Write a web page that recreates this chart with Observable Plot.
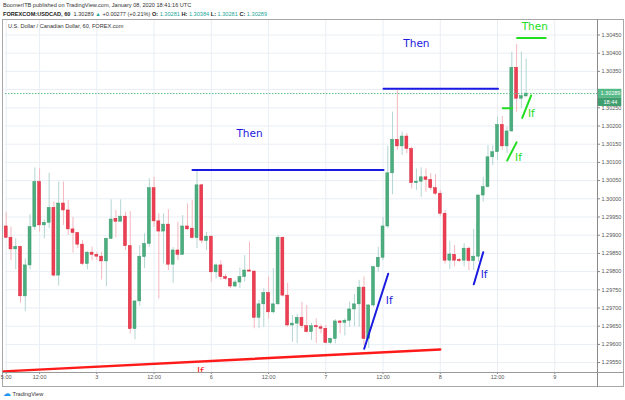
<!DOCTYPE html>
<html>
<head>
<meta charset="utf-8">
<script src="https://cdn.jsdelivr.net/npm/d3@7"></script>
<script src="https://cdn.jsdelivr.net/npm/@observablehq/plot@0.6"></script>
<style>
  html, body { margin: 0; padding: 0; background: #fff; }
  #page { position: relative; width: 625px; height: 400px; overflow: hidden; font-family: "Liberation Sans", Arial, sans-serif; color: #333; }
  #hdr { position: absolute; left: 3px; top: 1px; font-size: 5.6px; line-height: 9px; white-space: nowrap; }
  #hdr b { color: #222; }
  .tl { color: #26a69a; }
  #box { position: absolute; left: 2px; top: 19px; width: 620px; height: 366px; border: 1px solid #a8a8a8; box-sizing: content-box; }
  #vsep { position: absolute; left: 597px; top: 19px; width: 1px; height: 368px; background: #8a8a8a; }
  #hsep { position: absolute; left: 2px; top: 372px; width: 622px; height: 1px; background: #9a9a9a; }
  #chart { position: absolute; left: 0; top: 19px; }
  #title { position: absolute; left: 8px; top: 23px; font-size: 5.6px; white-space: nowrap; color: #333; }
  #logo { position: absolute; left: 3px; top: 389px; font-size: 5.6px; color: #333; white-space: nowrap; }
  #logo span { color: #2196f3; font-size: 8px; }
</style>
</head>
<body>
<div id="page">
  <div id="hdr">
    <div>BoomerITB published on TradingView.com, January 08, 2020 18:41:16 UTC</div>
    <div><b>FOREXCOM:USDCAD, 60</b>&nbsp; 1.30289 <span class="tl">▲</span> +0.00277 (+0.21%) <b>O:</b> <span class="tl">1.30281</span> <b>H:</b> <span class="tl">1.30384</span> <b>L:</b> <span class="tl">1.30281</span> <b>C:</b> <span class="tl">1.30289</span></div>
  </div>
  <div id="box"></div>
  <div id="chart"></div>
  <div id="vsep"></div>
  <div id="hsep"></div>
  <div id="title">U.S. Dollar / Canadian Dollar, 60, FOREX.com</div>
  <div id="logo"><span>☁</span> TradingView</div>
</div>
<script>
// Hourly USDCAD candles, bar 0 = Jan 2 2020 05:00 UTC
const opens = [1.29924,1.29893,1.29861,1.29868,1.29732,1.29817,1.29922,1.30046,1.29927,1.29934,
1.29975,1.29789,1.29987,1.29968,1.29916,1.29906,1.29874,1.29821,1.29852,1.29846,
1.29841,1.29828,1.29890,1.29945,1.29937,1.29951,1.29870,1.29642,1.29718,1.29840,
1.29876,1.30029,1.29938,1.29910,1.29929,1.29819,1.29858,1.29846,1.29924,1.29918,
1.29892,1.30037,1.29884,1.29896,1.29798,1.29817,1.29785,1.29780,1.29759,1.29770,
1.29785,1.29803,1.29800,1.29673,1.29710,1.29741,1.29688,1.29710,1.29893,1.29734,
1.29652,1.29657,1.29673,1.29650,1.29634,1.29650,1.29647,1.29643,1.29604,1.29615,
1.29663,1.29659,1.29665,1.29696,1.29710,1.29756,1.29615,1.29707,1.29812,1.29838,
1.29924,1.30070,1.30162,1.30144,1.30171,1.30137,1.30043,1.30047,1.30059,1.30052,
1.30029,1.30014,1.29959,1.29830,1.29846,1.29832,1.29830,1.29863,1.29829,1.29841,
1.30009,1.30032,1.30114,1.30128,1.30203,1.30144,1.30185,1.30360,1.30275,1.30281];
const highs = [1.29962,1.29922,1.29890,1.29870,1.29835,1.29956,1.30085,1.30082,1.29942,1.30070,
1.29991,1.30046,1.30046,1.29995,1.29949,1.29908,1.29885,1.29855,1.29867,1.29853,
1.29853,1.29892,1.29997,1.29968,1.29997,1.29963,1.29965,1.29720,1.29872,1.29904,
1.30055,1.30059,1.29959,1.29959,1.29970,1.29866,1.29936,1.29954,1.29986,1.29995,
1.30080,1.30040,1.29908,1.29898,1.29821,1.29830,1.29792,1.29781,1.29776,1.29810,
1.29844,1.29881,1.29802,1.29721,1.29753,1.29785,1.29808,1.29899,1.29895,1.29768,
1.29679,1.29682,1.29716,1.29707,1.29658,1.29670,1.29654,1.29652,1.29617,1.29668,
1.29666,1.29670,1.29716,1.29737,1.29776,1.29785,1.29709,1.29814,1.29867,1.29949,
1.30144,1.30238,1.30298,1.30183,1.30179,1.30142,1.30082,1.30085,1.30082,1.30069,
1.30066,1.30023,1.29968,1.29884,1.29872,1.29836,1.29876,1.29867,1.29916,1.30011,
1.30059,1.30146,1.30146,1.30224,1.30226,1.30197,1.30403,1.30424,1.30403,1.30384];
const lows = [1.29891,1.29830,1.29805,1.29713,1.29690,1.29805,1.29913,1.29908,1.29890,1.29918,
1.29785,1.29760,1.29927,1.29899,1.29851,1.29863,1.29817,1.29805,1.29830,1.29830,
1.29777,1.29759,1.29888,1.29893,1.29936,1.29858,1.29629,1.29613,1.29704,1.29808,
1.29867,1.29922,1.29725,1.29821,1.29803,1.29768,1.29830,1.29844,1.29913,1.29890,
1.29863,1.29877,1.29858,1.29771,1.29780,1.29776,1.29776,1.29753,1.29756,1.29753,
1.29771,1.29798,1.29643,1.29643,1.29647,1.29670,1.29684,1.29708,1.29730,1.29647,
1.29606,1.29602,1.29643,1.29631,1.29611,1.29603,1.29629,1.29602,1.29600,1.29602,
1.29629,1.29623,1.29647,1.29649,1.29647,1.29597,1.29589,1.29702,1.29798,1.29830,
1.29918,1.30011,1.30133,1.30119,1.30124,1.30027,1.30023,1.30004,1.30018,1.30023,
1.30009,1.29951,1.29821,1.29806,1.29813,1.29825,1.29813,1.29803,1.29803,1.29826,
1.29991,1.30030,1.30091,1.30105,1.30133,1.30124,1.30183,1.30238,1.30247,1.30281];
const closes = [1.29893,1.29861,1.29868,1.29732,1.29817,1.29922,1.30046,1.29927,1.29934,1.29975,
1.29789,1.29987,1.29968,1.29916,1.29906,1.29874,1.29821,1.29852,1.29846,1.29841,
1.29828,1.29890,1.29943,1.29937,1.29951,1.29870,1.29642,1.29718,1.29841,1.29876,
1.30029,1.29938,1.29910,1.29929,1.29819,1.29858,1.29846,1.29924,1.29916,1.29892,
1.30037,1.29885,1.29896,1.29798,1.29817,1.29785,1.29780,1.29759,1.29770,1.29785,
1.29803,1.29800,1.29673,1.29710,1.29741,1.29688,1.29710,1.29893,1.29734,1.29652,
1.29657,1.29673,1.29650,1.29634,1.29650,1.29647,1.29643,1.29604,1.29615,1.29663,
1.29659,1.29665,1.29696,1.29710,1.29756,1.29615,1.29707,1.29812,1.29838,1.29924,
1.30070,1.30162,1.30144,1.30171,1.30137,1.30043,1.30047,1.30059,1.30052,1.30029,
1.30014,1.29959,1.29830,1.29847,1.29830,1.29829,1.29863,1.29829,1.29841,1.30009,
1.30032,1.30114,1.30128,1.30203,1.30144,1.30185,1.30360,1.30275,1.30282,1.30289];

// axis ticks (the 1.30300 label sits under the live price tag)
const yTicks = [1.3045,1.304,1.3035,1.303,1.3025,1.302,1.3015,1.301,1.3005,1.3,1.2995,1.299,1.2985,1.298,1.2975,1.297,1.2965,1.296,1.2955];
const yHiddenLabel = 1.303;
const xTickBars = [0,7,19,31,43,55,67,79,91,103,115];
const xTickLabels = ["5:00","12:00","3","12:00","6","12:00","7","12:00","8","12:00","9"];

// drawings (bar index, price)
const redLine = [{x:-0.55, y:1.29526},{x:91, y:1.29586}];
const blueLines = [
  [{x:39.06,y:1.30079},{x:79.1,y:1.30079}],
  [{x:79.1,y:1.30302},{x:103.1,y:1.30302}],
  [{x:75.05,y:1.29588},{x:80.08,y:1.29794}],
  [{x:98.03,y:1.29765},{x:100.0,y:1.29853}]
];
const greenLines = [
  [{x:107.1,y:1.30442},{x:113.1,y:1.30442}],
  [{x:104.1,y:1.30249},{x:106.07,y:1.30249}],
  [{x:105.03,y:1.30105},{x:107.0,y:1.30155}],
  [{x:108.18,y:1.30222},{x:110.06,y:1.30284}]
];
const blueTexts = [{x:51.0,y:1.30179,t:"Then"},{x:86.0,y:1.30427,t:"Then"},{x:80.3,y:1.29721,t:"If"},{x:100.2,y:1.29792,t:"If"}];
const greenTexts = [{x:110.8,y:1.30473,t:"Then"},{x:107.4,y:1.30113,t:"If"},{x:110.1,y:1.30234,t:"If"}];
const redTexts = [{x:40.7,y:1.29526,t:"If"}];

const lastClose = 1.30289;
const timeLabel = "18:44";

const candles = opens.map((o,i) => ({i, open:o, high:highs[i], low:lows[i], close:closes[i]}));
const up = d => d.close >= d.open;
const GREEN = "#4cae7f", RED = "#ec3f53", GWICK = "#b3d6d3", RWICK = "#f4b7bf";
const BLUE = "#1a1ae0", LIME = "#22dd22", REDL = "#ff1a1a";
const xDomain = [-0.147, 123.96];

const chart = Plot.plot({
  width: 625, height: 368,
  marginLeft: 5, marginRight: 28, marginTop: 1, marginBottom: 15,
  x: {domain: xDomain},
  y: {domain: [1.295228, 1.304898]},
  color: {type: "identity"},
  style: {fontFamily: "Liberation Sans, Arial, sans-serif", background: "transparent", overflow: "visible"},
  marks: [
    Plot.gridY(yTicks, {stroke: "#e9eef5", strokeOpacity: 1}),
    Plot.gridX(xTickBars, {stroke: "#e9eef5", strokeOpacity: 1}),
    Plot.ruleX(candles, {x: "i", y1: "low", y2: "high", stroke: d => up(d) ? GWICK : RWICK, strokeWidth: 1}),
    Plot.rect(candles, {x1: d => d.i - 0.31, x2: d => d.i + 0.31, y1: "open", y2: "close",
      fill: d => up(d) ? GREEN : RED, stroke: d => up(d) ? "#3a9a6c" : "#d8283c", strokeWidth: 0.5}),
    Plot.line(redLine, {x: "x", y: "y", stroke: REDL, strokeWidth: 2.4}),
    ...blueLines.map(l => Plot.line(l, {x: "x", y: "y", stroke: BLUE, strokeWidth: 2})),
    ...greenLines.map(l => Plot.line(l, {x: "x", y: "y", stroke: LIME, strokeWidth: 2})),
    Plot.text(blueTexts, {x: "x", y: "y", text: "t", fill: BLUE, fontSize: 10.5, fontFamily: "DejaVu Sans"}),
    Plot.text(greenTexts, {x: "x", y: "y", text: "t", fill: LIME, fontSize: 10.5, fontFamily: "DejaVu Sans"}),
    Plot.text(redTexts, {x: "x", y: "y", text: "t", fill: REDL, fontSize: 10.5, fontFamily: "DejaVu Sans", clip: true}),
    Plot.ruleY([lastClose], {stroke: "#5cbf8a", strokeDasharray: "1.5,1.5", strokeWidth: 1}),
    Plot.axisY(yTicks, {anchor: "right", tickSize: 2, tickPadding: 2, tickFormat: d => d === yHiddenLabel ? "" : d.toFixed(5), fontSize: 5.5, fill: "#555", stroke: "#888", label: null}),
    Plot.axisX(xTickBars, {tickSize: 2, tickPadding: 1, tickFormat: d => xTickLabels[xTickBars.indexOf(d)], fontSize: 5.5, fill: "#555", stroke: "#888", label: null}),
    Plot.rect([lastClose], {x1: xDomain[1], x2: xDomain[1] + 5.1, y1: d => d - 0.000118, y2: d => d + 0.000118, fill: "#53b987", clip: false}),
    Plot.rect([lastClose], {x1: xDomain[1], x2: xDomain[1] + 5.1, y1: d => d - 0.000118 - 0.000236, y2: d => d - 0.000118, fill: "#3f9e6e", clip: false}),
    Plot.text([lastClose], {y: d => d, frameAnchor: "right", dx: 3, textAnchor: "start", text: d => d.toFixed(5), fill: "#fff", fontSize: 5.5}),
    Plot.text([lastClose], {y: d => d - 0.000236, frameAnchor: "right", dx: 6, textAnchor: "start", text: () => timeLabel, fill: "#fff", fontSize: 5.5})
  ]
});
document.getElementById("chart").appendChild(chart);
</script>
</body>
</html>
